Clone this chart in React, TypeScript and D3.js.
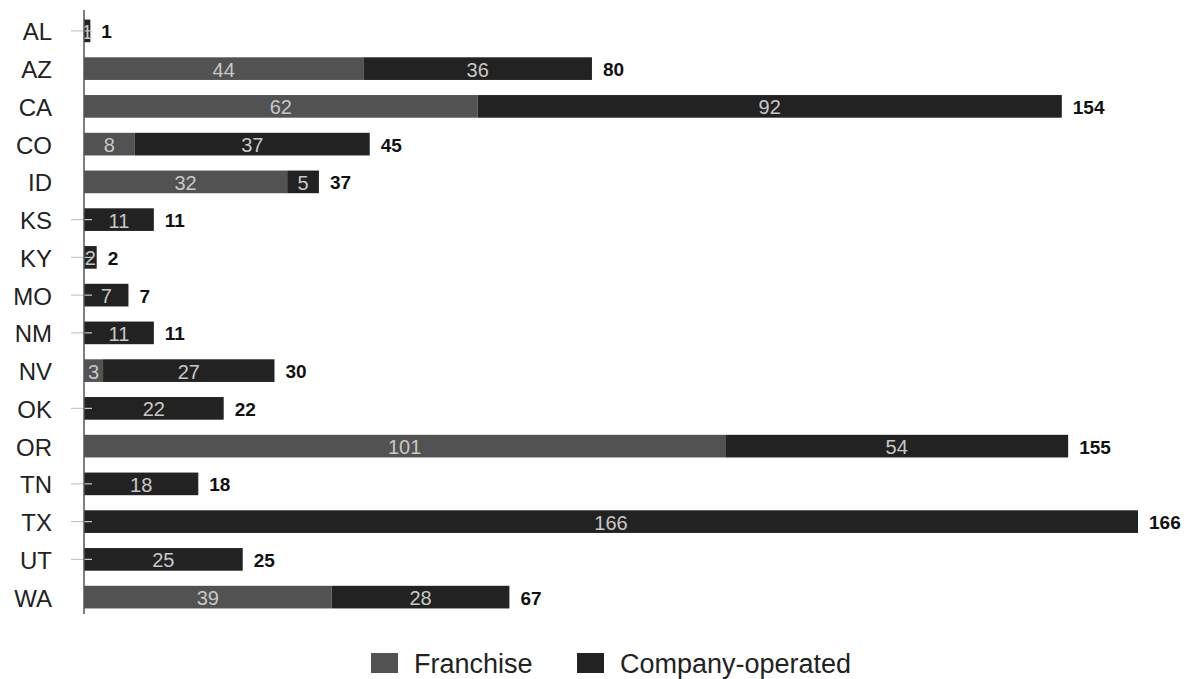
import React from "react";
import * as d3 from "d3";

const states = ["AL","AZ","CA","CO","ID","KS","KY","MO","NM","NV","OK","OR","TN","TX","UT","WA"];
const franchise = [0,44,62,8,32,0,0,0,0,3,0,101,0,0,0,39];
const company = [1,36,92,37,5,11,2,7,11,27,22,54,18,166,25,28];
const seriesNames = ["Franchise","Company-operated"];
const colors = ["#525252","#222222"];

const W = 1187, H = 679;
const FONT = "'Liberation Sans', Arial, Helvetica, sans-serif";

export default function App() {
  const x = d3.scaleLinear().domain([0, 166]).range([84, 1138]);
  const y = d3.scaleBand().domain(states).range([12, 616]).paddingInner(0.4).paddingOuter(0.2);
  const bh = y.bandwidth();
  return (
    <svg width={W} height={H} style={{ position: "absolute", left: 0, top: 0, background: "#fff" }} fontFamily={FONT}>
      {states.map((s, i) => {
        const yc = (y(s) as number) + bh / 2;
        const f = franchise[i], c = company[i];
        const x0 = x(0), x1 = x(f), x2 = x(f + c);
        return (
          <g key={s}>
            <text x={52} y={yc + 1} textAnchor="end" dominantBaseline="central" fontSize={24} fill="#222">{s}</text>
            {f > 0 && <rect x={x0} y={y(s)} width={x1 - x0} height={bh} fill={colors[0]} />}
            <rect x={x1} y={y(s)} width={x2 - x1} height={bh} fill={colors[1]} />
            {f === 0 && <line x1={71} x2={92} y1={yc} y2={yc} stroke="#c8c8c8" strokeWidth={1.2} />}
            {f > 0 && <text x={(x0 + x1) / 2} y={yc + 1} textAnchor="middle" dominantBaseline="central" fontSize={20} fill="#c8c8c8">{f}</text>}
            <text x={(x1 + x2) / 2} y={yc + 1} textAnchor="middle" dominantBaseline="central" fontSize={20} fill="#c8c8c8">{c}</text>
            <text x={x2 + 11} y={yc + 1} dominantBaseline="central" fontSize={19} fontWeight="bold" fill="#111">{f + c}</text>
          </g>
        );
      })}
      <line x1={84} x2={84} y1={10} y2={614} stroke="#555" strokeWidth={1.5} />
      {seriesNames.map((n, i) => {
        const lx = [371, 577][i];
        return (
          <g key={n}>
            <rect x={lx} y={653} width={27} height={20} fill={colors[i]} />
            <text x={lx + 43} y={664} dominantBaseline="central" fontSize={27} fill="#222">{n}</text>
          </g>
        );
      })}
    </svg>
  );
}
